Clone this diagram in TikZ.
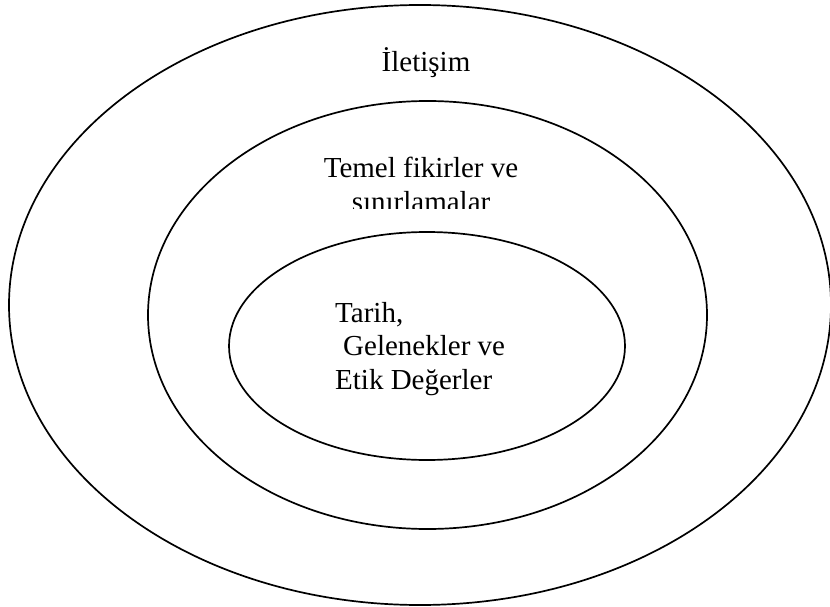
\documentclass[tikz,border=0pt]{standalone}
\usepackage{fontspec}
\setmainfont{Liberation Serif}
\usepackage{tikz}
\usetikzlibrary{shapes.geometric,positioning}

\begin{document}
\begin{tikzpicture}[x=1pt,y=-1pt,
  ring/.style={draw,ellipse,line width=1.7pt,inner sep=0pt},
  word/.style={inner sep=0pt,font=\fontsize{29}{33.5}\selectfont}
]
\useasboundingbox (0,0) rectangle (830,607);
% nested ellipses
\node[ring,minimum width=822pt,minimum height=600pt] (dis) at (420,305) {};
\node[ring,minimum width=559pt,minimum height=428pt] (orta) at (427.5,315) {};
\node[ring,minimum width=396pt,minimum height=228pt] (ic) at (427,346) {};
% labels
\node[word,anchor=base] (iletisim) at (426,72) {İletişim};
\node[word,anchor=base] (temel) at (421,178) {Temel fikirler ve};
\begin{scope}
  \clip (0,0) rectangle (830,208);
  \node[word,anchor=base] (sinir) at (421,211.5) {sınırlamalar};
\end{scope}
\node[word,anchor=base west] (tarih) at (335,322) {Tarih,};
\node[word,anchor=base west] (gelenek) at (343,355) {Gelenekler ve};
\node[word,anchor=base west] (etik) at (335,389) {Etik Değerler};
\end{tikzpicture}
\end{document}
